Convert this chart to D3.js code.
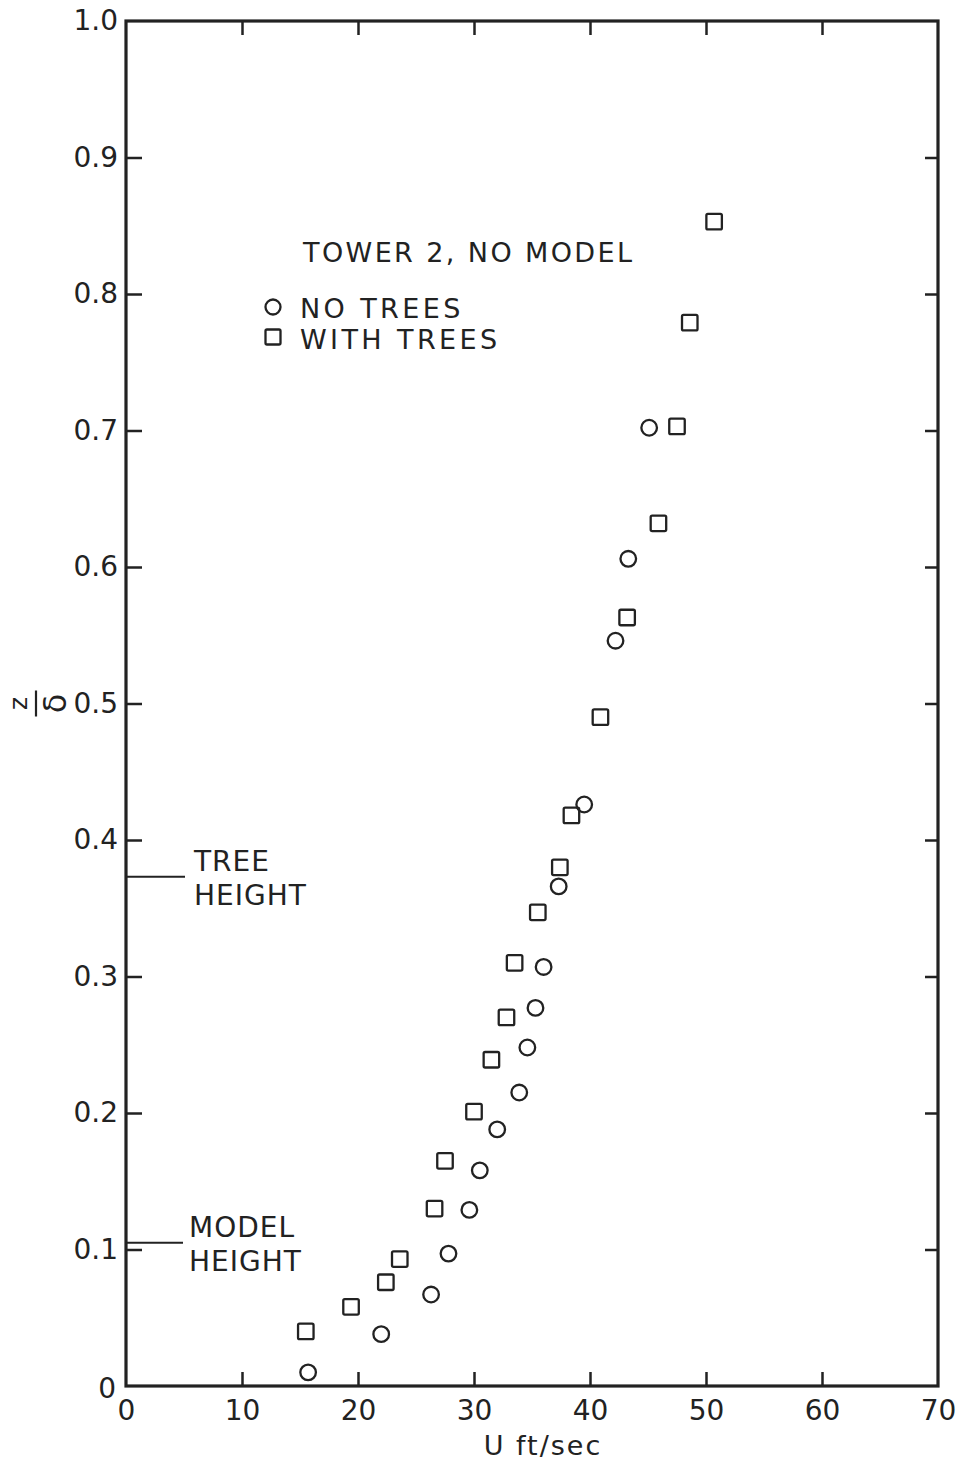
<!DOCTYPE html>
<html>
<head>
<meta charset="utf-8">
<script src="https://cdn.jsdelivr.net/npm/d3@7/dist/d3.min.js"></script>
<style>
  html, body { margin: 0; padding: 0; background: #fff; }
  svg { display: block; }
  text { font-family: "DejaVu Sans", "Liberation Sans", sans-serif; fill: #222; }
</style>
</head>
<body>
<svg id="chart" width="966" height="1464"></svg>
<script>
// Velocity profiles at tower 2 (no model): U in ft/sec against z/delta
const noTreesU = [15.7, 22.0, 26.3, 27.8, 29.6, 30.5, 32.0, 33.9, 34.6, 35.3, 36.0, 37.3, 39.5, 42.2, 43.3, 45.1];
const noTreesZ = [0.010, 0.038, 0.067, 0.097, 0.129, 0.158, 0.188, 0.215, 0.248, 0.277, 0.307, 0.366, 0.426, 0.546, 0.606, 0.702];

const withTreesU = [15.5, 19.4, 22.4, 23.6, 26.6, 27.5, 30.0, 31.5, 32.8, 33.5, 35.5, 37.4, 38.4, 40.9, 43.2, 45.9, 47.5, 48.6, 50.7];
const withTreesZ = [0.040, 0.058, 0.076, 0.093, 0.130, 0.165, 0.201, 0.239, 0.270, 0.310, 0.347, 0.380, 0.418, 0.490, 0.563, 0.632, 0.703, 0.779, 0.853];

const xTicks = [0, 10, 20, 30, 40, 50, 60, 70];
const yTicks = [0, 0.1, 0.2, 0.3, 0.4, 0.5, 0.6, 0.7, 0.8, 0.9, 1.0];

// Reference heights marked on the vertical axis
const treeHeight = 0.373;
const modelHeight = 0.105;

const legendTitle = "TOWER 2, NO MODEL";
const legendItems = ["NO TREES", "WITH TREES"];

const ink = "#222";
const svg = d3.select("#chart");

const plotLeft = 126, plotRight = 938, plotTop = 21, plotBottom = 1386;
const x = d3.scaleLinear().domain([0, 70]).range([plotLeft, plotRight]);
const y = d3.scaleLinear().domain([0, 1]).range([plotBottom, plotTop]);

const inner = xTicks.filter(d => d > 0 && d < 70);
const innerY = yTicks.filter(d => d > 0 && d < 1);

// Bottom axis: inward ticks, labels below
const gx = svg.append("g").attr("transform", `translate(0,${plotBottom})`)
  .call(d3.axisBottom(x).tickValues(xTicks).tickSizeInner(-14).tickSizeOuter(0).tickPadding(14)
    .tickFormat(d3.format("d")));
gx.select(".domain").remove();
gx.selectAll(".tick line").filter(d => d === 0 || d === 70).remove();
gx.selectAll(".tick line").attr("stroke", ink).attr("stroke-width", 2.5);
gx.selectAll(".tick text").attr("font-size", 28).attr("fill", ink).attr("font-family", "DejaVu Sans").attr("dy", "0.72em");

// Top axis: ticks only
const gxt = svg.append("g").attr("transform", `translate(0,${plotTop})`)
  .call(d3.axisTop(x).tickValues(inner).tickSizeInner(-14).tickSizeOuter(0).tickFormat(""));
gxt.select(".domain").remove();
gxt.selectAll(".tick line").attr("stroke", ink).attr("stroke-width", 2.5);

// Left axis: inward ticks, labels to the left
const gy = svg.append("g").attr("transform", `translate(${plotLeft},0)`)
  .call(d3.axisLeft(y).tickValues(yTicks).tickSizeInner(-16).tickSizeOuter(0).tickPadding(8)
    .tickFormat(d => d === 0 ? "0" : d3.format(".1f")(d)));
gy.select(".domain").remove();
gy.selectAll(".tick line").filter(d => d === 0 || d === 1).remove();
gy.selectAll(".tick line").attr("stroke", ink).attr("stroke-width", 2.5);
gy.selectAll(".tick text").attr("font-size", 28).attr("fill", ink).attr("font-family", "DejaVu Sans");
gy.selectAll(".tick text").filter(d => d === 0).attr("dx", -2).attr("dy", "0.42em");

// Right axis: ticks only
const gyr = svg.append("g").attr("transform", `translate(${plotRight},0)`)
  .call(d3.axisRight(y).tickValues(innerY).tickSizeInner(-13).tickSizeOuter(0).tickFormat(""));
gyr.select(".domain").remove();
gyr.selectAll(".tick line").attr("stroke", ink).attr("stroke-width", 2.5);

// Plot frame
svg.append("rect")
  .attr("x", plotLeft).attr("y", plotTop)
  .attr("width", plotRight - plotLeft).attr("height", plotBottom - plotTop)
  .attr("fill", "none").attr("stroke", ink).attr("stroke-width", 3.2);

// Axis titles
svg.append("text")
  .attr("x", 543).attr("y", 1455)
  .attr("text-anchor", "middle").attr("font-size", 27).attr("letter-spacing", 2)
  .text("U ft/sec");

// Vertical title: the fraction z over delta, turned on its side
const yl = svg.append("g").attr("transform", `translate(40,${y(0.5)}) rotate(-90)`);
yl.append("text").attr("x", 0).attr("y", -13).attr("text-anchor", "middle").attr("font-size", 25).text("z");
yl.append("line").attr("x1", -13).attr("x2", 13).attr("y1", -4).attr("y2", -4).attr("stroke", ink).attr("stroke-width", 2.2);
yl.append("text").attr("x", 0).attr("y", 26).attr("text-anchor", "middle").attr("font-size", 32).text("δ");

// Height markers
function marker(val, lines, tx, lineEnd) {
  svg.append("line")
    .attr("x1", plotLeft).attr("x2", lineEnd)
    .attr("y1", y(val)).attr("y2", y(val))
    .attr("stroke", ink).attr("stroke-width", 2);
  const t = svg.append("text").attr("font-size", 28).attr("letter-spacing", 1);
  lines.forEach((s, i) => {
    t.append("tspan").attr("x", tx).attr("y", y(val) + (i === 0 ? -6 : 28)).text(s);
  });
}
marker(treeHeight, ["TREE", "HEIGHT"], 194, 185);
marker(modelHeight, ["MODEL", "HEIGHT"], 189, 183);

// Data: circles without trees, squares with trees
const noTrees = noTreesU.map((u, i) => ({u, z: noTreesZ[i]}));
const withTrees = withTreesU.map((u, i) => ({u, z: withTreesZ[i]}));

const r = 7.8, s = 15.5;
svg.append("g").selectAll("circle").data(noTrees).join("circle")
  .attr("cx", d => x(d.u)).attr("cy", d => y(d.z)).attr("r", r)
  .attr("fill", "none").attr("stroke", ink).attr("stroke-width", 2.3);

svg.append("g").selectAll("rect").data(withTrees).join("rect")
  .attr("x", d => x(d.u) - s / 2).attr("y", d => y(d.z) - s / 2)
  .attr("width", s).attr("height", s).attr("rx", 1.5)
  .attr("fill", "none").attr("stroke", ink).attr("stroke-width", 2.3);

// Legend
svg.append("text").attr("x", 303).attr("y", 262)
  .attr("font-size", 27).attr("letter-spacing", 2.4).text(legendTitle);
svg.append("circle").attr("cx", 273).attr("cy", 307).attr("r", 7.5)
  .attr("fill", "none").attr("stroke", ink).attr("stroke-width", 2.3);
svg.append("rect").attr("x", 273 - 7.5).attr("y", 337 - 7.5).attr("width", 15).attr("height", 15).attr("rx", 1.5)
  .attr("fill", "none").attr("stroke", ink).attr("stroke-width", 2.3);
legendItems.forEach((s, i) => {
  svg.append("text").attr("x", 300).attr("y", 318 + i * 31)
    .attr("font-size", 27).attr("letter-spacing", 3.4).text(s);
});
</script>
</body>
</html>
